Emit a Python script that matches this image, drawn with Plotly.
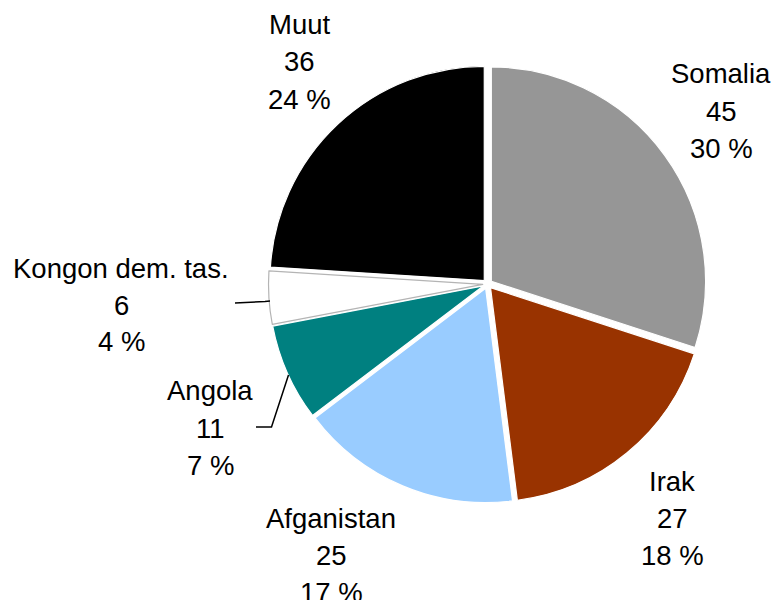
import plotly.graph_objects as go

categories = ["Somalia", "Irak", "Afganistan", "Angola", "Kongon dem. tas.", "Muut"]
values = [45, 27, 25, 11, 6, 36]
colors = ["#969696", "#993300", "#99CCFF", "#008080", "#FFFFFF", "#000000"]
line_colors = ["#FFFFFF", "#FFFFFF", "#FFFFFF", "#FFFFFF", "#B4B4B4", "#FFFFFF"]

W, H = 773, 600
total = sum(values)

# label placement (pixel centres of label blocks)
label_pos = {
    "Somalia": (721, 111),
    "Irak": (672, 518),
    "Afganistan": (331, 555),
    "Angola": (210, 428),
    "Kongon dem. tas.": (121, 305),
    "Muut": (299, 62),
}
line_gap = 37
font = dict(family="Liberation Sans, Arial, sans-serif", size=27.5, color="#000000")

def px(x, y):
    return x / W, 1 - y / H

fig = go.Figure(go.Pie(
    labels=categories,
    values=values,
    sort=False,
    direction="clockwise",
    rotation=0,
    marker=dict(colors=colors, line=dict(color=line_colors, width=1.2)),
    pull=[0.022] * len(values),
    textinfo="none",
    hoverinfo="label+value+percent",
    showlegend=False,
    domain=dict(x=[268.5 / W, 706.5 / W], y=[1 - 503 / H, 1 - 65 / H]),
))

annotations = []
for cat, v in zip(categories, values):
    cx, cy = label_pos[cat]
    pct = round(100 * v / total)
    for i, t in enumerate([cat, str(v), f"{pct} %"]):
        x, y = px(cx, cy + (i - 1) * line_gap)
        annotations.append(dict(x=x, y=y, xref="paper", yref="paper", text=t,
                                showarrow=False, xanchor="center", yanchor="middle",
                                font=font))

shapes = []
leaders = [
    [(235, 303), (265, 301.5), (270, 301)],
    [(256, 427), (271.5, 427), (288.5, 375)],
]
for pts in leaders:
    path = "M " + " L ".join(f"{px(x, y)[0]:.5f},{px(x, y)[1]:.5f}" for x, y in pts)
    shapes.append(dict(type="path", path=path, xref="paper", yref="paper",
                       line=dict(color="#000000", width=1.5)))

fig.update_layout(
    width=W, height=H,
    margin=dict(l=0, r=0, t=0, b=0),
    paper_bgcolor="#FFFFFF",
    plot_bgcolor="#FFFFFF",
    annotations=annotations,
    shapes=shapes,
)

fig.write_html("out.html", config={"displayModeBar": False},
               post_script="document.body.style.margin='0';")
